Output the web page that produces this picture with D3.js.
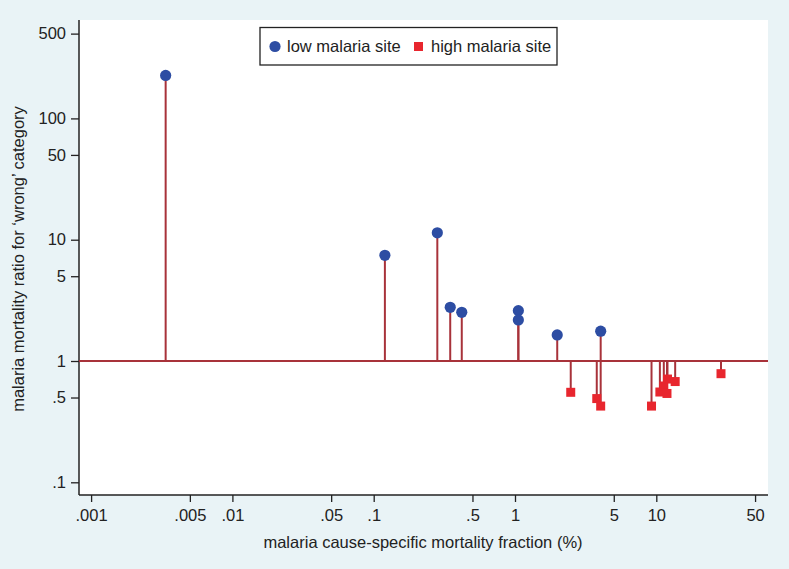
<!DOCTYPE html>
<html><head><meta charset="utf-8">
<script src="https://cdn.jsdelivr.net/npm/d3@7"></script>
<style>body{margin:0;background:#e9f3f6;}svg{display:block;}</style>
</head><body>
<script>
// Data (x: malaria CSMF %, y: mortality ratio)
const lowX = [0.00337, 0.120, 0.282, 0.348, 0.42, 1.056, 1.056, 1.99, 4.04];
const lowY = [226, 7.44, 11.4, 2.77, 2.52, 2.6, 2.18, 1.64, 1.76];
const highX = [2.48, 3.79, 4.04, 9.25, 10.6, 11.3, 11.9, 12.0, 13.6, 28.7];
const highY = [0.552, 0.49, 0.425, 0.425, 0.555, 0.622, 0.54, 0.71, 0.677, 0.786];
const xTicks = [0.001, 0.005, 0.01, 0.05, 0.1, 0.5, 1, 5, 10, 50];
const xTickLabels = [".001", ".005", ".01", ".05", ".1", ".5", "1", "5", "10", "50"];
const yTicks = [0.1, 0.5, 1, 5, 10, 50, 100, 500];
const yTickLabels = [".1", ".5", "1", "5", "10", "50", "100", "500"];
const legendLabels = ["low malaria site", "high malaria site"];

const W = 789, H = 569;
const L = 79, R = 768, T = 20, B = 495;
const svg = d3.select("body").append("svg").attr("width", W).attr("height", H);
svg.append("rect").attr("width", W).attr("height", H).attr("fill", "#e9f3f6");
svg.append("rect").attr("x", L).attr("y", T).attr("width", R - L).attr("height", B - T).attr("fill", "#ffffff");

const x = d3.scaleLog().domain([Math.pow(10, (L - 515) / 141.3), Math.pow(10, (R - 515) / 141.3)]).range([L, R]);
const y = d3.scaleLog().domain([Math.pow(10, (361 - B) / 121.3), Math.pow(10, (361 - T) / 121.3)]).range([B, T]);

const font = "'Liberation Sans', Arial, Helvetica, sans-serif";
const xAxis = d3.axisBottom(x).tickValues(xTicks).tickFormat((d, i) => xTickLabels[i]).tickSize(7).tickPadding(7);
const yAxis = d3.axisLeft(y).tickValues(yTicks).tickFormat((d, i) => yTickLabels[i]).tickSize(8).tickPadding(5);

const gx = svg.append("g").attr("transform", `translate(0,${B})`).call(xAxis);
const gy = svg.append("g").attr("transform", `translate(${L},0)`).call(yAxis);
[gx, gy].forEach(g => {
  g.select(".domain").attr("stroke", "#222").attr("stroke-width", 1.5);
  g.selectAll(".tick line").attr("stroke", "#222").attr("stroke-width", 1.3);
  g.selectAll(".tick text").attr("fill", "#222").style("font-family", font).style("font-size", "16.5px");
});
gx.select(".domain").attr("d", `M${L},0H${R}`);
gy.select(".domain").attr("d", `M0,${B}V${T}`);

// baseline at 1
svg.append("line").attr("x1", L).attr("x2", R).attr("y1", y(1)).attr("y2", y(1))
  .attr("stroke", "#a8323a").attr("stroke-width", 2.2);

const stemColor = "#a8323a";
const low = lowX.map((v, i) => ({x: v, y: lowY[i]}));
const high = highX.map((v, i) => ({x: v, y: highY[i]}));

svg.append("g").selectAll("line").data(high).join("line")
  .attr("x1", d => x(d.x)).attr("x2", d => x(d.x)).attr("y1", y(1)).attr("y2", d => y(d.y))
  .attr("stroke", stemColor).attr("stroke-width", 2);
svg.append("g").selectAll("line").data(low).join("line")
  .attr("x1", d => x(d.x)).attr("x2", d => x(d.x)).attr("y1", y(1)).attr("y2", d => y(d.y))
  .attr("stroke", stemColor).attr("stroke-width", 2);

svg.append("g").selectAll("rect").data(high).join("rect")
  .attr("x", d => x(d.x) - 4.5).attr("y", d => y(d.y) - 4.5).attr("width", 9).attr("height", 9)
  .attr("fill", "#e8262e");
svg.append("g").selectAll("circle").data(low).join("circle")
  .attr("cx", d => x(d.x)).attr("cy", d => y(d.y)).attr("r", 5.6)
  .attr("fill", "#2d4da3");

// legend
const lg = svg.append("g");
lg.append("rect").attr("x", 260).attr("y", 27.5).attr("width", 297).attr("height", 37.5)
  .attr("fill", "#fff").attr("stroke", "#222").attr("stroke-width", 1.3);
lg.append("circle").attr("cx", 275).attr("cy", 46.5).attr("r", 5.6).attr("fill", "#2d4da3");
lg.append("text").attr("x", 287).attr("y", 52).text(legendLabels[0])
  .style("font-family", font).style("font-size", "16.5px").attr("fill", "#222");
lg.append("rect").attr("x", 414).attr("y", 42).attr("width", 9).attr("height", 9).attr("fill", "#e8262e");
lg.append("text").attr("x", 431).attr("y", 52).text(legendLabels[1])
  .style("font-family", font).style("font-size", "16.5px").attr("fill", "#222");

// axis titles
svg.append("text").attr("x", 423).attr("y", 548).attr("text-anchor", "middle")
  .text("malaria cause-specific mortality fraction (%)")
  .style("font-family", font).style("font-size", "16.5px").attr("fill", "#222");
svg.append("text").attr("transform", `translate(24,259) rotate(-90)`).attr("text-anchor", "middle")
  .text("malaria mortality ratio for \u2018wrong\u2019 category")
  .style("font-family", font).style("font-size", "16.5px").attr("fill", "#222");
</script>
</body></html>
